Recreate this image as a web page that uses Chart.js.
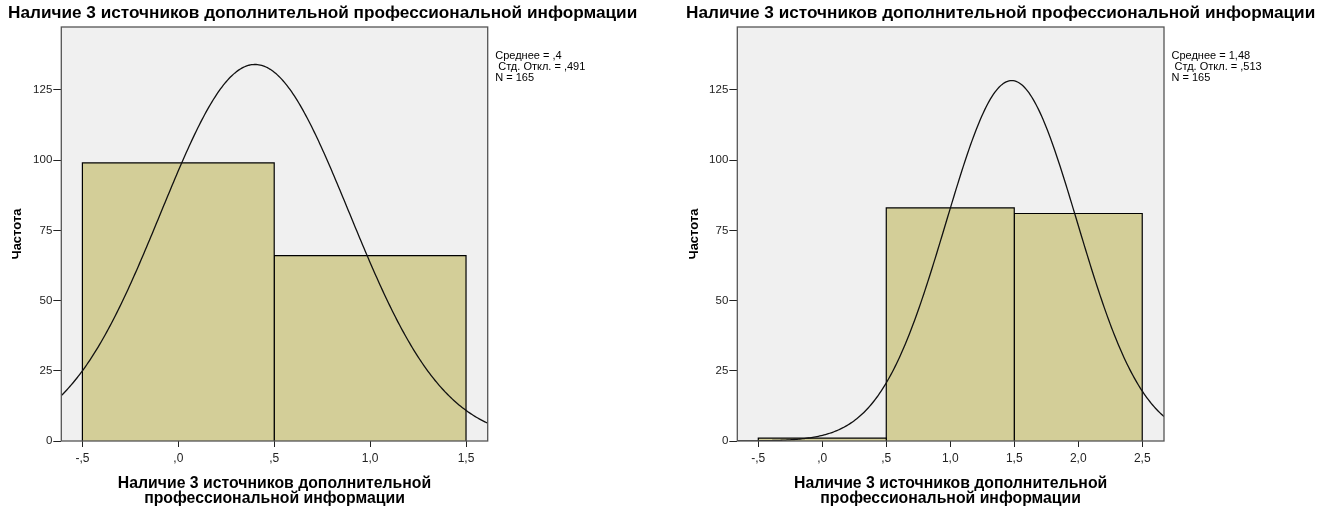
<!DOCTYPE html>
<html>
<head>
<meta charset="utf-8">
<script src="https://cdn.jsdelivr.net/npm/chart.js@4/dist/chart.umd.min.js"></script>
<style>
  html, body { margin: 0; padding: 0; background: #fff; }
  body { width: 1329px; height: 506px; position: relative; overflow: hidden; }
  canvas { position: absolute; top: 0; }
</style>
</head>
<body>
<canvas id="histA" width="676" height="506" style="left:0"></canvas>
<canvas id="histB" width="651" height="506" style="left:678px"></canvas>
<script>
// Texts
const chartTitle = 'Наличие 3 источников дополнительной профессиональной информации';
const xAxisTitle = ['Наличие 3 источников дополнительной', 'профессиональной информации'];
const yAxisTitle = 'Частота';

// Histogram bins (edges) and frequencies
const binEdgesA = [-0.5, 0.5, 1.5];
const countsA = [99, 66];
const binEdgesB = [-0.5, 0.5, 1.5, 2.5];
const countsB = [1, 83, 81];

// Summary statistics printed beside each plot
const meanValues = [0.4, 1.48];
const sdValues = [0.491, 0.513];
const nValues = [165, 165];

// Axis ticks and ranges
const xTicksA = [-0.5, 0, 0.5, 1.0, 1.5];
const xTicksB = [-0.5, 0, 0.5, 1.0, 1.5, 2.0, 2.5];
const xRangeA = [-0.61, 1.613];
const xRangeB = [-0.664, 2.67];
const yTicks = [0, 25, 50, 75, 100, 125];
const yRange = [0, 147.4];

const FONT = '"Liberation Sans", Arial, sans-serif';
const BAR_FILL = '#D3CE98';
const PLOT_BG = '#F0F0F0';

// Comma decimal, no leading zero: -0.5 -> "-,5", 1 -> "1,0"
function tickLabel(v) {
  let s = Math.abs(v).toFixed(1).replace('.', ',');
  if (s.startsWith('0,')) s = s.slice(1);
  return (v < 0 ? '-' : '') + s;
}
function statLabel(v) {
  let s = String(v).replace('.', ',');
  if (s.startsWith('0,')) s = s.slice(1);
  return s;
}

function barDatasets(edges, counts) {
  return counts.map((c, i) => ({
    type: 'line',
    data: [
      { x: edges[i], y: 0 },
      { x: edges[i], y: c },
      { x: edges[i + 1], y: c },
      { x: edges[i + 1], y: 0 }
    ],
    borderColor: '#000',
    borderWidth: 1.2,
    backgroundColor: BAR_FILL,
    fill: 'origin',
    pointRadius: 0,
    tension: 0,
    order: 2
  }));
}

// Fitted normal curve scaled to the frequency axis (bin width 1)
function normalCurve(mean, sd, n, range, binWidth) {
  const pts = [];
  const steps = 300;
  const k = n * binWidth / (sd * Math.sqrt(2 * Math.PI));
  for (let i = 0; i <= steps; i++) {
    const x = range[0] + (range[1] - range[0]) * i / steps;
    const z = (x - mean) / sd;
    pts.push({ x, y: k * Math.exp(-0.5 * z * z) });
  }
  return pts;
}

// Plot background, frame, heading and the statistics box
const plotFrame = {
  id: 'plotFrame',
  beforeDraw(chart) {
    const { ctx, chartArea: a } = chart;
    ctx.save();
    ctx.fillStyle = PLOT_BG;
    ctx.fillRect(a.left, a.top, a.right - a.left, a.bottom - a.top);
    ctx.restore();
  },
  afterDraw(chart) {
    const { ctx, chartArea: a } = chart;
    const idx = chart.options.plugins.statsBox.index;
    ctx.save();
    ctx.strokeStyle = '#555';
    ctx.lineWidth = 1.3;
    ctx.strokeRect(a.left, a.top, a.right - a.left, a.bottom - a.top);

    ctx.fillStyle = '#000';
    ctx.textBaseline = 'middle';
    ctx.textAlign = 'left';
    ctx.font = 'bold 17.2px ' + FONT;
    ctx.fillText(chartTitle, 8, 13);

    ctx.font = '11px ' + FONT;
    const lines = [
      'Среднее = ' + statLabel(meanValues[idx]),
      ' Стд. Откл. = ' + statLabel(sdValues[idx]),
      'N = ' + nValues[idx]
    ];
    lines.forEach((t, i) => ctx.fillText(t, a.right + 7.5, 56 + i * 11));
    ctx.restore();
  }
};

function makeHistogram(canvasId, idx, edges, counts, xTicks, xRange, plotLeft, padRight, yTitlePad) {
  const datasets = [
    {
      type: 'line',
      data: normalCurve(meanValues[idx], sdValues[idx], nValues[idx], xRange, 1),
      borderColor: '#111',
      borderWidth: 1.3,
      pointRadius: 0,
      fill: false,
      tension: 0,
      order: 1
    },
    ...barDatasets(edges, counts)
  ];
  return new Chart(document.getElementById(canvasId), {
    type: 'scatter',
    data: { datasets },
    plugins: [plotFrame],
    options: {
      responsive: false,
      animation: false,
      showLine: true,
      layout: { padding: { left: 8, right: padRight, top: 27, bottom: 0 } },
      plugins: {
        legend: { display: false },
        tooltip: { enabled: false },
        title: { display: false },
        statsBox: { index: idx }
      },
      scales: {
        x: {
          type: 'linear',
          min: xRange[0],
          max: xRange[1],
          afterFit(s) { s.height = 65; },
          afterBuildTicks(s) { s.ticks = xTicks.map(v => ({ value: v })); },
          ticks: {
            callback: v => tickLabel(v),
            color: '#222',
            font: { family: FONT, size: 12 },
            padding: 4,
            maxRotation: 0,
            autoSkip: false
          },
          grid: { drawOnChartArea: false, drawTicks: true, tickLength: 6, color: '#222', lineWidth: 1 },
          border: { display: false },
          title: {
            display: true,
            text: xAxisTitle,
            color: '#000',
            font: { family: FONT, size: 15.8, weight: 'bold', lineHeight: 0.95 },
            padding: { top: 0, bottom: 0 }
          }
        },
        y: {
          type: 'linear',
          min: yRange[0],
          max: yRange[1],
          afterFit(s) { s.width = plotLeft - 8; },
          afterBuildTicks(s) { s.ticks = yTicks.map(v => ({ value: v })); },
          ticks: {
            color: '#222',
            font: { family: FONT, size: 11.5 },
            padding: 1,
            includeBounds: false
          },
          grid: { drawOnChartArea: false, drawTicks: true, tickLength: 8, color: '#222', lineWidth: 1 },
          border: { display: false },
          title: {
            display: true,
            text: yAxisTitle,
            color: '#000',
            font: { family: FONT, size: 13, weight: 'bold', lineHeight: 1.2 },
            padding: { top: yTitlePad, bottom: 0 }
          }
        }
      }
    }
  });
}

makeHistogram('histA', 0, binEdgesA, countsA, xTicksA, xRangeA, 61.3, 188.3, 2);
makeHistogram('histB', 1, binEdgesB, countsB, xTicksB, xRangeB, 59.3, 165, 0.5);
</script>
</body>
</html>
